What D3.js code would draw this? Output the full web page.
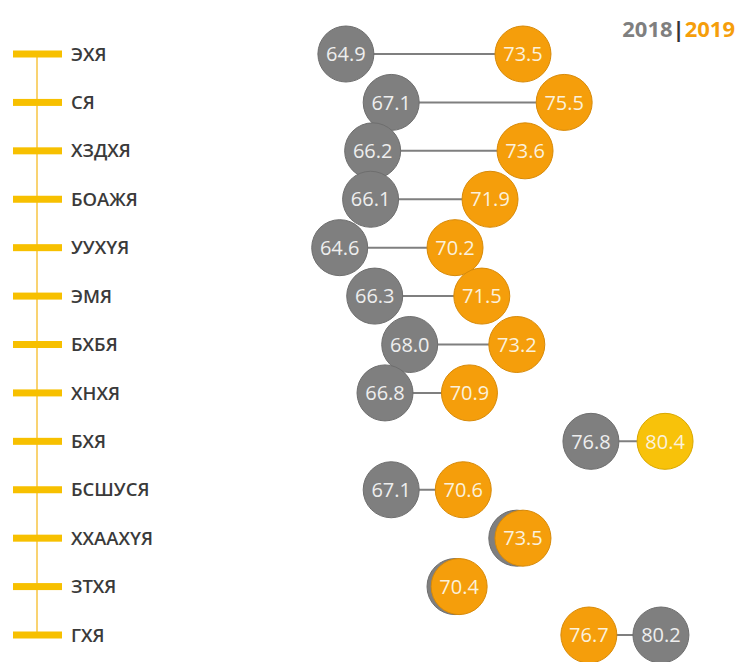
<!DOCTYPE html>
<html><head><meta charset="utf-8">
<script src="https://cdn.jsdelivr.net/npm/d3@7"></script>
<style>body{margin:0;background:#fff}svg{display:block}</style>
</head><body>
<script>
const categories = ["ЭХЯ","СЯ","ХЗДХЯ","БОАЖЯ","УУХҮЯ","ЭМЯ","БХБЯ","ХНХЯ","БХЯ","БСШУСЯ","ХХААХҮЯ","ЗТХЯ","ГХЯ"];
const values2018 = [64.9,67.1,66.2,66.1,64.6,66.3,68.0,66.8,76.8,67.1,73.2,70.2,80.2];
const values2019 = [73.5,75.5,73.6,71.9,70.2,71.5,73.2,70.9,80.4,70.6,73.5,70.4,76.7];
const show2018 = [true,true,true,true,true,true,true,true,true,true,false,false,true];
const highlight2019 = "БХЯ";
const legendLabels = ["2018","2019"];

const W = 739, H = 662;
const svg = d3.select("body").append("svg").attr("width", W).attr("height", H);
const font = "'Open Sans', 'DejaVu Sans', sans-serif";

const x = d3.scaleLinear().domain([60, 82]).range([245, 698]);
const y = d3.scalePoint().domain(categories).range([54, 635]);
const r = 28;

// left yellow axis
svg.append("line").attr("x1", 37).attr("x2", 37).attr("y1", y(categories[0])).attr("y2", y(categories[categories.length-1]))
  .attr("stroke", "#f7c542").attr("stroke-width", 1.5);
const axis = d3.axisLeft(y).tickSize(0).tickFormat("");
const ag = svg.append("g").attr("transform", "translate(37,0)").call(axis);
ag.select(".domain").remove();
svg.selectAll("rect.tick").data(categories).join("rect").attr("class","tick")
  .attr("x", 13).attr("width", 49).attr("y", d => y(d) - 3.5).attr("height", 7).attr("fill", "#f7c000");
svg.selectAll("text.cat").data(categories).join("text").attr("class","cat")
  .attr("x", 71).attr("y", d => y(d)).attr("dy", "0.36em")
  .attr("font-family", font).attr("font-size", 18.5).attr("font-weight", 600).attr("fill", "#3a3a3a")
  .text(d => d);

const rows = categories.map((c, i) => ({c, a: values2018[i], b: values2019[i], show: show2018[i]}));

// connectors
svg.selectAll("line.conn").data(rows).join("line").attr("class","conn")
  .attr("x1", d => x(d.a)).attr("x2", d => x(d.b)).attr("y1", d => y(d.c)).attr("y2", d => y(d.c))
  .attr("stroke", "#7f7f7f").attr("stroke-width", 2);

// 2018 circles
const g18 = svg.selectAll("g.c18").data(rows).join("g").attr("class","c18")
  .attr("transform", d => `translate(${x(d.a)},${y(d.c)})`);
g18.append("circle").attr("r", r).attr("fill", "#7f7f7f").attr("stroke", "#6e6e6e").attr("stroke-width", 1);
g18.filter(d => d.show).append("text").attr("text-anchor","middle").attr("dy","0.36em")
  .attr("font-family", font).attr("font-size", 20).attr("fill", "#eeeeee").text(d => d.a.toFixed(1));

// 2019 circles
const g19 = svg.selectAll("g.c19").data(rows).join("g").attr("class","c19")
  .attr("transform", d => `translate(${x(d.b)},${y(d.c)})`);
g19.append("circle").attr("r", r).attr("fill", d => d.c === highlight2019 ? "#f8c20a" : "#f59e0b")
  .attr("stroke", d => d.c === highlight2019 ? "#d9a800" : "#d88a08").attr("stroke-width", 1);
g19.append("text").attr("text-anchor","middle").attr("dy","0.36em")
  .attr("font-family", font).attr("font-size", 20).attr("fill", "#fbf1dc").text(d => d.b.toFixed(1));

// legend
const lg = svg.append("text").attr("x", 735).attr("y", 37).attr("text-anchor", "end")
  .attr("font-family", font).attr("font-size", 22).attr("font-weight", 700);
lg.append("tspan").attr("fill", "#7f7f7f").text(legendLabels[0]);
lg.append("tspan").attr("fill", "#333").text("|");
lg.append("tspan").attr("fill", "#f59e0b").text(legendLabels[1]);
</script>
</body></html>
